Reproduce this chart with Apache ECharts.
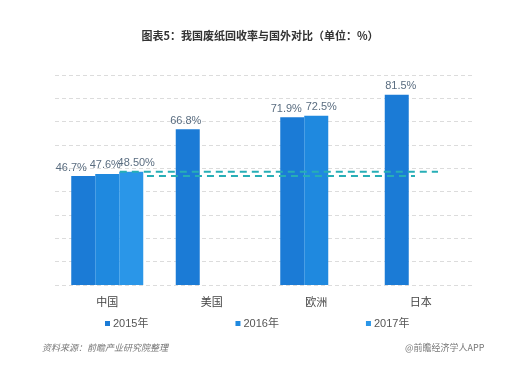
<!DOCTYPE html>
<html>
<head>
<meta charset="utf-8">
<script src="https://cdn.jsdelivr.net/npm/echarts@6/dist/echarts.min.js"></script>
<style>html,body{margin:0;padding:0;background:#fff;}#c{width:520px;height:372px;}</style>
</head>
<body>
<div id="c"></div>
<script>
var categories = ['中国', '美国', '欧洲', '日本'];
var seriesNames = ['2015年', '2016年', '2017年'];
var values2015 = [46.7, 66.8, 71.9, 81.5];
var values2016 = [47.6, null, 72.5, null];
var values2017 = [48.5, null, null, null];
var labels2015 = ['46.7%', '66.8%', '71.9%', '81.5%'];
var labels2016 = ['47.6%', '', '72.5%', ''];
var labels2017 = ['48.50%', '', '', ''];
// reference dashed lines: [x start, x end] in category units, y value
var refLineA = [[0.12, 48.5], [3.165, 48.5]];
var refLineB = [[0.38, 46.7], [2.945, 46.7]];
var yTicks = {min: 0, max: 90, interval: 10};

var colors = ['#1b7bd6', '#1f89df', '#2a96e8'];
var labelShift = [[-12, -2, -6, 4], [-2, 0, 5, 0], [5, 0, 0, 0]];

function barSeries(idx, vals, labs) {
  return {
    name: seriesNames[idx],
    type: 'bar',
    barWidth: 24,
    barGap: 0,
    itemStyle: {color: colors[idx]},
    data: vals.map(function (v, i) {
      return {
        value: v == null ? '-' : v,
        label: {
          show: v != null,
          position: 'top',
          distance: 3,
          offset: [labelShift[idx][i], 0],
          formatter: labs[i],
          color: '#5a6d80',
          fontSize: 11,
          fontFamily: 'Liberation Sans, Arial, sans-serif'
        }
      };
    })
  };
}

function refSeries(pts) {
  return {
    type: 'line',
    xAxisIndex: 1,
    yAxisIndex: 0,
    symbol: 'none',
    silent: true,
    z: 5,
    lineStyle: {color: '#27aeb6', width: 2, type: [7, 5]},
    data: pts
  };
}

var chart = echarts.init(document.getElementById('c'), null, {renderer: 'canvas'});
chart.setOption({
  animation: false,
  backgroundColor: '#fff',
  title: [
    {
      text: '图表5：我国废纸回收率与国外对比（单位：%）',
      left: 'center', top: 25,
      textStyle: {fontSize: 11, fontWeight: 'bold', color: '#333', fontFamily: 'Noto Sans CJK SC'}
    },
    {
      text: '资料来源：前瞻产业研究院整理',
      left: 37, top: 338,
      textStyle: {fontSize: 9, fontWeight: 'normal', fontStyle: 'italic', color: '#777', fontFamily: 'Noto Sans CJK SC'}
    },
    {
      text: '@前瞻经济学人APP',
      left: 400, top: 338,
      textStyle: {fontSize: 9, fontWeight: 'normal', color: '#777', fontFamily: 'Noto Sans CJK SC'}
    }
  ],
  legend: {
    data: seriesNames,
    left: 100, top: 313,
    itemWidth: 5, itemHeight: 5, itemGap: 87,
    icon: 'rect',
    textStyle: {fontSize: 11, color: '#555', padding: [0, 0, 0, -2], fontFamily: 'Liberation Sans, Noto Sans CJK SC'}
  },
  grid: {left: 55, right: 47, top: 75, bottom: 87},
  xAxis: [
    {
      type: 'category',
      data: categories,
      axisLine: {show: false},
      axisTick: {show: false},
      axisLabel: {color: '#444', fontSize: 11, margin: 11, fontFamily: 'Noto Sans CJK SC'}
    },
    {
      type: 'value',
      min: -0.5, max: 3.5,
      show: false
    }
  ],
  yAxis: {
    type: 'value',
    min: yTicks.min, max: yTicks.max, interval: yTicks.interval,
    axisLine: {show: false},
    axisTick: {show: false},
    axisLabel: {show: false},
    splitLine: {lineStyle: {color: '#dcdcdc', type: [4, 3], width: 1}}
  },
  series: [
    barSeries(0, values2015, labels2015),
    barSeries(1, values2016, labels2016),
    barSeries(2, values2017, labels2017),
    refSeries(refLineA),
    refSeries(refLineB)
  ]
});
</script>
</body>
</html>
